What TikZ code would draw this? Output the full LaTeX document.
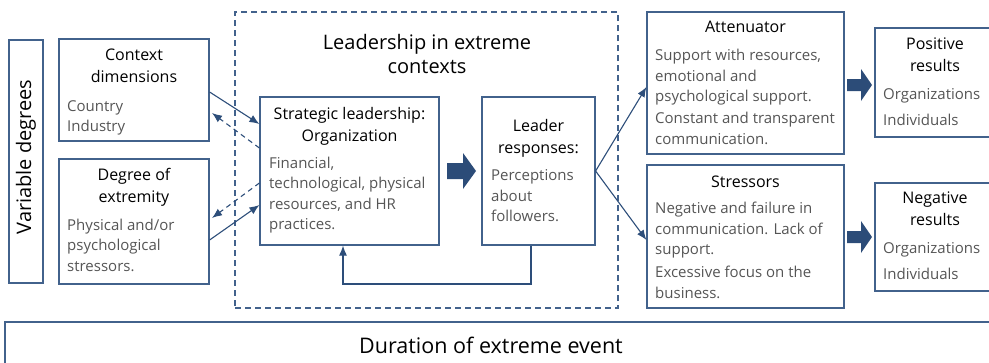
\documentclass[tikz,border=0pt]{standalone}
\usepackage{fontspec}
\setmainfont{Open Sans}
\usetikzlibrary{arrows.meta}
\definecolor{bordc}{RGB}{66,98,140}
\definecolor{arrc}{RGB}{45,78,122}
\definecolor{fatc}{RGB}{44,76,120}
\definecolor{bodyc}{RGB}{85,85,85}
\tikzset{
  box/.style={draw=bordc, line width=1.2pt, rectangle, inner sep=0pt},
  head/.style={anchor=base, align=center, inner sep=0pt, text=black, font=\fontsize{16}{22}\selectfont},
  body/.style={anchor=base west, align=left, inner sep=0pt, text=bodyc, font=\fontsize{15}{20.5}\selectfont},
  bodyw/.style={body, font=\fontsize{15}{26}\selectfont},
  conn/.style={draw=arrc, line width=1.1pt, -{Latex[length=10pt,width=8pt]}},
  dconn/.style={conn, dash pattern=on 5pt off 4pt},
  fat/.style={fill=fatc},
}
\begin{document}
\begin{tikzpicture}[x=1pt,y=-1pt]
\useasboundingbox (0,0) rectangle (989,362);
% left column
\node[box, minimum width=34pt, minimum height=243pt] (var) at (26,161.5) {};
\node[rotate=90, inner sep=0pt, font=\fontsize{20}{24}\selectfont] (vart) at (26,157) {Variable degrees};
\node[box, minimum width=150pt, minimum height=102pt] (ctx) at (134,90) {};
\node[head] (ctxh) at (134,82) {Context\\dimensions};
\node[body] (ctxb) at (67,131.5) {Country\\Industry};
\node[box, minimum width=150pt, minimum height=125pt] (deg) at (134,221.5) {};
\node[head] (degh) at (134,202) {Degree of\\extremity};
\node[body] (degb) at (67,271) {Physical and/or\\psychological\\stressors.};
% dashed container
\node[draw=bordc, line width=1.1pt, dash pattern=on 6pt off 4pt, rectangle, inner sep=0pt,
  minimum width=383pt, minimum height=296pt] (lead) at (426.5,160) {};
\node[anchor=base, align=center, inner sep=0pt, font=\fontsize{20}{24}\selectfont] (leadt) at (427,73.5) {Leadership in extreme\\contexts};
% strategic
\node[box, minimum width=179pt, minimum height=148pt] (strat) at (349.5,171) {};
\node[head] (strath) at (349.5,141) {Strategic leadership:\\Organization};
\node[body] (stratb) at (269,229.5) {Financial,\\technological, physical\\resources, and HR\\practices.};
% leader
\node[box, minimum width=113pt, minimum height=148pt] (ldr) at (538.5,171) {};
\node[head] (ldrh) at (538.5,153) {Leader\\responses:};
\node[body] (ldrb) at (491,221.5) {Perceptions\\about\\followers.};
% attenuator / stressors
\node[box, minimum width=197pt, minimum height=142pt] (att) at (745.5,83) {};
\node[head] (atth) at (745.5,32.5) {Attenuator};
\node[body] (attb1) at (655,101.5) {Support with resources,\\emotional and\\psychological support.};
\node[body] (attb2) at (655,144) {Constant and transparent\\communication.};
\node[box, minimum width=197pt, minimum height=143pt] (str) at (745.5,236.5) {};
\node[head] (strh) at (745.5,187.5) {Stressors};
\node[body] (strb1) at (655,254.5) {Negative and failure in\\communication. Lack of\\support.};
\node[body] (strb2) at (655,298) {Excessive focus on the\\business.};
% results
\node[box, minimum width=120pt, minimum height=109pt] (pos) at (935,82.5) {};
\node[head] (posh) at (935,71.5) {Positive\\results};
\node[bodyw] (posb) at (883,125) {Organizations\\Individuals};
\node[box, minimum width=120pt, minimum height=108pt] (neg) at (935,237) {};
\node[head] (negh) at (935,225.5) {Negative\\results};
\node[bodyw] (negb) at (883,279.5) {Organizations\\Individuals};
% duration
\node[box, minimum width=995pt, minimum height=50pt] (dur) at (502.5,347) {};
\node[inner sep=0pt, font=\fontsize{21.5}{24}\selectfont] (durt) at (491,345) {Duration of extreme event};
% connectors left
\coordinate (c1) at (ctx.east |- 0,92);
\coordinate (s1) at (strat.west |- 0,124);
\coordinate (s2) at (strat.west |- 0,148);
\coordinate (c2) at (212,113);
\coordinate (s3) at (strat.west |- 0,183);
\coordinate (d1) at (212,218);
\coordinate (d2) at (deg.east |- 0,240);
\coordinate (s4) at (strat.west |- 0,205);
\draw[conn] (c1) -- (s1);
\draw[dconn] (s2) -- (c2);
\draw[dconn] (s3) -- (d1);
\draw[conn] (d2) -- (s4);
% fat arrows
\fill[fat] (447,163) -- (463,163) -- (463,153) -- (476,171) -- (463,189) -- (463,179) -- (447,179) -- cycle;
\fill[fat] (847,79) -- (861,79) -- (861,69) -- (872,85) -- (861,101) -- (861,91) -- (847,91) -- cycle;
\fill[fat] (847,231) -- (861,231) -- (861,221) -- (872,237) -- (861,253) -- (861,243) -- (847,243) -- cycle;
% leader to attenuator / stressors
\coordinate (a1) at (att.west |- 0,87);
\coordinate (a2) at (str.west |- 0,240);
\draw[conn] (ldr.east) -- (a1);
\draw[conn] (ldr.east) -- (a2);
% feedback
\coordinate (fb1) at (531,284);
\coordinate (fb2) at (343,284);
\draw[conn] (ldr.south -| fb1) -- (fb1) -- (fb2) -- (strat.south -| fb2);
\end{tikzpicture}
\end{document}
